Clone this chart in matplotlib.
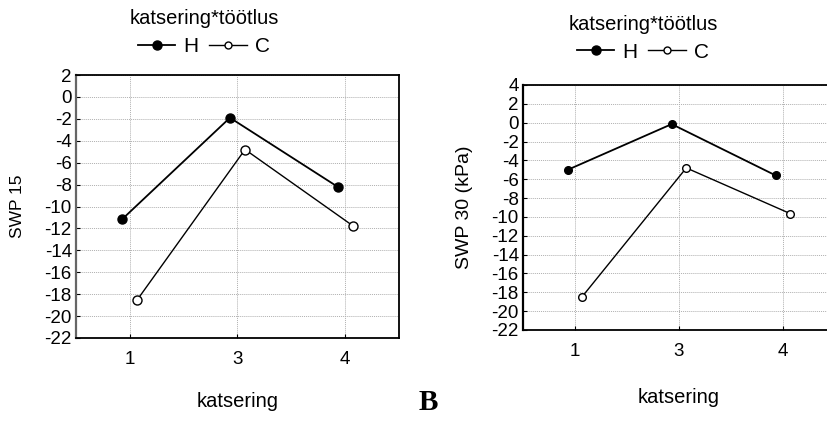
import numpy as np
import matplotlib
matplotlib.use("Agg")
import matplotlib.pyplot as plt
from matplotlib.lines import Line2D

plt.rcParams["font.family"] = ["Liberation Sans", "DejaVu Sans"]
plt.rcParams["axes.unicode_minus"] = False

katsering = ["1", "3", "4"]

swp15_H = [-11.15, -1.9, -8.2]
swp15_C = [-18.5, -4.8, -11.75]

swp30_H = [-5.0, -0.15, -5.6]
swp30_C = [-18.45, -4.8, -9.65]

W, H = 827, 421
fig = plt.figure(figsize=(W / 100, H / 100), dpi=100)


def px_axes(x0, y0, x1, y1):
    # pixel box (top-left origin) -> figure fraction
    return fig.add_axes([x0 / W, 1 - y1 / H, (x1 - x0) / W, (y1 - y0) / H])


def draw_panel(ax, h_vals, c_vals, ylim, ylabel, ylabel_size, ms, left_color):
    pos = np.arange(len(katsering))
    off = 0.07
    ax.plot(pos - off, h_vals, "-o", color="black", lw=1.3, ms=ms,
            mfc="black", mec="black", zorder=3)
    ax.plot(pos + off, c_vals, "-o", color="black", lw=1.0, ms=ms,
            mfc="white", mec="black", mew=1.0, zorder=3)
    ax.set_xlim(-0.5, len(katsering) - 0.5)
    ax.set_ylim(*ylim)
    ax.set_xticks(pos)
    ax.set_xticklabels(katsering)
    ax.set_yticks(np.arange(ylim[0], ylim[1] + 1, 2))
    ax.grid(True, linestyle=(0, (1, 1)), color="#b0b0b0", lw=0.7)
    ax.tick_params(direction="in", length=3, labelsize=13.5, pad=3)
    ax.tick_params(axis="x", pad=9)
    for sp in ax.spines.values():
        sp.set_linewidth(1.3)
        sp.set_color("black")
    ax.spines["left"].set_color(left_color)
    ax.spines["left"].set_linewidth(1.6)
    ax.set_ylabel(ylabel, fontsize=ylabel_size)
    ax.set_xlabel("katsering", fontsize=14.5)


ax1 = px_axes(76, 75, 399, 338)
draw_panel(ax1, swp15_H, swp15_C, (-22, 2), "SWP 15", 12.5, 6.5, "#666666")
ax1.xaxis.set_label_coords(0.5, -0.205)
ax1.yaxis.set_label_coords(-0.158, 0.5)

ax2 = px_axes(523, 85, 835, 330)
draw_panel(ax2, swp30_H, swp30_C, (-22, 4), "SWP 30 (kPa)", 14, 5.5, "black")
ax2.xaxis.set_label_coords(0.5, -0.237)
ax2.yaxis.set_label_coords(-0.160, 0.5)

handles = [
    Line2D([], [], color="black", lw=1.3, marker="o", ms=6.5, mfc="black", mec="black"),
    Line2D([], [], color="black", lw=1.0, marker="o", ms=5, mfc="white", mec="black"),
]
# (title centre x, title y, entries y) in pixels
for cx, ty, ly in [(204, 19, 47), (643, 24, 52)]:
    fig.text(cx / W, 1 - ty / H, "katsering*töötlus", fontsize=14.5,
             ha="center", va="center")
    fig.legend(handles, ["H", "C"], loc="center", ncol=2,
               bbox_to_anchor=(cx / W, 1 - ly / H), frameon=False, fontsize=15,
               handlelength=1.8, handletextpad=0.4, columnspacing=0.5,
               borderpad=0.1)

fig.text(428 / W, 1 - 402 / H, "B", fontsize=21, fontweight="bold",
         family="Liberation Serif", ha="center", va="center")

fig.savefig("out.png", dpi=100)
